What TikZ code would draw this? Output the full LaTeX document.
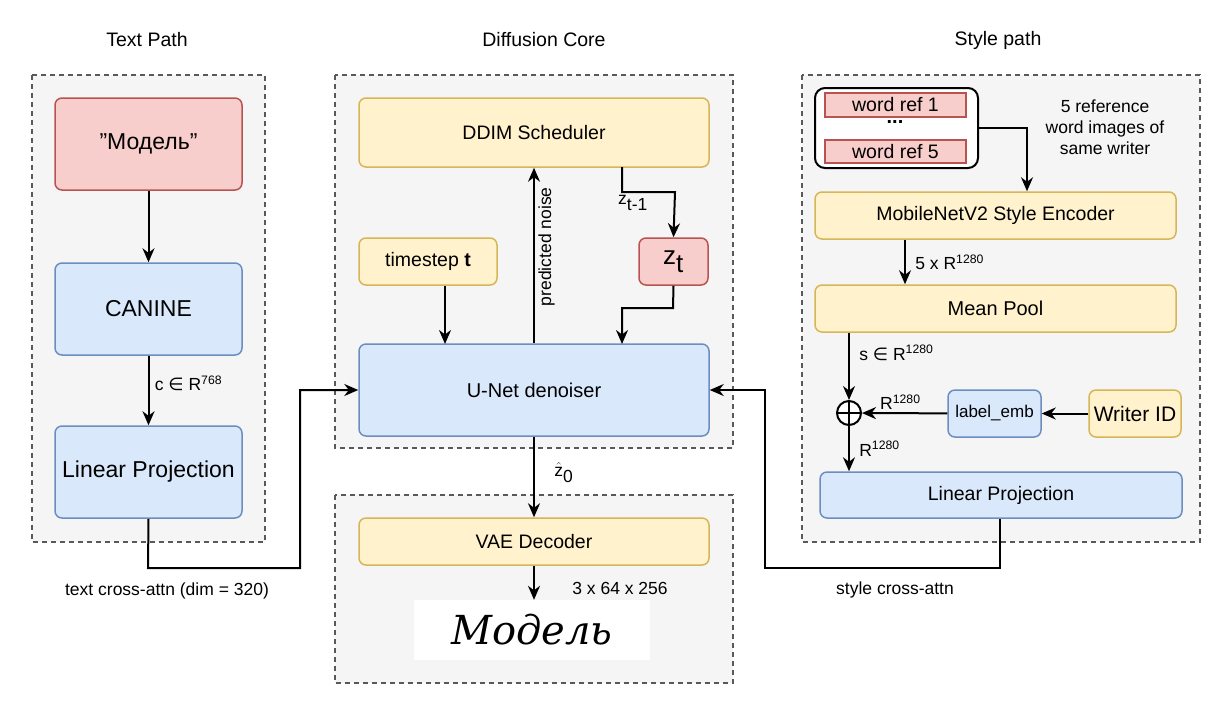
\documentclass[tikz,border=0pt]{standalone}
\usepackage{fontspec}
\setmainfont{Liberation Sans}
\newfontfamily\hand{DejaVu Serif}
\newfontfamily\dvs{DejaVu Sans}
\usetikzlibrary{arrows.meta}
\newcommand{\supx}[1]{\textsuperscript{#1}}
\newcommand{\subx}[1]{$_{\mbox{#1}}$}
\newcommand{\inx}{{\dvs ∈}}
\begin{document}
\begin{tikzpicture}[x=1pt,y=-1pt,
  grp/.style={draw=black!65,dashed,dash pattern=on 5pt off 4pt,line width=1.5pt,fill=black!4},
  box/.style={draw,rounded corners=7pt,line width=1.5pt,align=center,font=\fontsize{19.5}{23}\selectfont},
  yel/.style={box,fill={rgb,255:red,255;green,242;blue,204},draw={rgb,255:red,214;green,182;blue,86}},
  blu/.style={box,fill={rgb,255:red,218;green,232;blue,252},draw={rgb,255:red,108;green,142;blue,191}},
  red/.style={box,fill={rgb,255:red,248;green,206;blue,204},draw={rgb,255:red,184;green,84;blue,80}},
  arr/.style={-{Stealth[length=14pt,width=12pt]},line width=2pt},
  lbl/.style={font=\fontsize{17.5}{21}\selectfont},
  ttl/.style={font=\fontsize{19.5}{23}\selectfont}]
\useasboundingbox (0,0) rectangle (1230,713);
% groups
\draw[grp] (32,75) rectangle (265,542);
\draw[grp] (335,75) rectangle (733,448);
\draw[grp] (335,495) rectangle (733,683);
\draw[grp] (802,75) rectangle (1200,542);
\node[ttl] (t1) at (147,40) {Text Path};
\node[ttl] (t2) at (544,40) {Diffusion Core};
\node[ttl] (t3) at (998,40) {Style path};
% text path
\node[red,minimum width=187pt,minimum height=92pt,font=\fontsize{23}{27}\selectfont] (mod) at (148.5,144) {\char"22 Модель\char"22};
\node[blu,minimum width=187pt,minimum height=92pt,font=\fontsize{23}{27}\selectfont] (can) at (148.5,309) {CANINE};
\node[blu,minimum width=187pt,minimum height=92pt,font=\fontsize{23}{27}\selectfont] (lp1) at (148.5,472) {Linear Projection};
\draw[arr] (mod) -- (can);
\draw[arr] (can) -- node[lbl,right=2pt,pos=0.4] {c \inx{} R\supx{768}} (lp1);
% diffusion
\node[yel,minimum width=350pt,minimum height=69pt] (ddim) at (534,132.5) {DDIM Scheduler};
\node[yel,minimum width=138pt,minimum height=47pt] (ts) at (428,261.5) {timestep \textbf{t}};
\node[red,minimum width=69pt,minimum height=47pt,font=\fontsize{26}{30}\selectfont] (zt) at (673.5,261.5) {z\subx{t}};
\node[blu,minimum width=350pt,minimum height=92pt,font=\fontsize{20}{24}\selectfont] (unet) at (534,390) {U-Net denoiser};
\node[yel,minimum width=350pt,minimum height=47pt] (vae) at (534,541.5) {VAE Decoder};
\node[fill=white,minimum width=236pt,minimum height=60pt,inner sep=0pt,font=\hand\itshape\fontsize{40}{40}\selectfont] (img) at (532,630) {Модель};
\draw[arr] (unet.north) -- node[lbl,sloped,below,pos=0.55] {predicted noise} (ddim.south);
\coordinate (a1) at (622,167);
\draw[arr] (a1) |- (675,192) -- (zt.north);
\node[lbl] (zl) at (633,203) {z\subx{t-1}};
\draw[arr] (ts.south -| 445,0) -- (445,344);
\draw[arr] (zt.south) -- (673,308) -| (622,344);
\draw[arr] (unet.south) -- node[lbl,right=16pt,pos=0.45] {$\hat{\mbox{z}}_{\mbox{0}}$} (vae.north);
\draw[arr] (vae.south) -- (img.north -| vae.south);
\node[lbl] (dims) at (620,588) {3 x 64 x 256};
% text cross-attn
\draw[arr] (lp1.south) -- (148,568) -| (300,390) -- (unet.west);
\node[lbl] (tca) at (167,591) {text cross-attn (dim = 320)};
% style path
\draw[line width=2pt,fill=white,rounded corners=10pt] (815,88) rectangle (978,168);
\coordinate (wc) at (978,128);
\node[red,rounded corners=0pt,minimum width=141pt,minimum height=24pt,inner sep=0pt] (w1) at (895.5,105) {word ref 1};
\node[red,rounded corners=0pt,minimum width=141pt,minimum height=23pt,inner sep=0pt] (w5) at (895.5,151.5) {word ref 5};
\node[font=\bfseries\fontsize{20}{20}\selectfont,inner sep=0pt] (dots) at (895,122) {...};
\node[lbl,align=center] (wdesc) at (1105,127) {5 reference\\word images of\\same writer};
\node[yel,minimum width=361pt,minimum height=47pt] (mob) at (995.5,215.5) {MobileNetV2 Style Encoder};
\node[yel,minimum width=361pt,minimum height=47pt,font=\fontsize{20}{24}\selectfont] (mp) at (995.5,308.5) {Mean Pool};
\node[blu,minimum width=93pt,minimum height=47pt,inner sep=1pt,font=\fontsize{17}{20}\selectfont] (le) at (994.5,413.5) {label\_emb};
\node[yel,minimum width=92pt,minimum height=47pt,inner sep=1pt,font=\fontsize{21}{24}\selectfont] (wid) at (1135,413.5) {Writer ID};
\node[blu,minimum width=362pt,minimum height=46pt] (lp2) at (1001,495) {Linear Projection};
\node[draw,circle,line width=2pt,fill=white,minimum size=24pt,inner sep=0pt] (plus) at (849,413) {};
\draw[line width=1.5pt] (plus.north) -- (plus.south) (plus.west) -- (plus.east);
\draw[arr] (wc) -| (mob.north -| 1027,0);
\draw[arr] (mob.south -| 905,0) -- node[lbl,right=6pt] {5 x R\supx{1280}} (mp.north -| 905,0);
\draw[arr] (mp.south -| 849,0) -- node[lbl,right=6pt,pos=0.3] {s \inx{} R\supx{1280}} (plus.north);
\draw[arr] (wid) -- (le);
\draw[arr] (le) -- node[lbl,above=-1pt,pos=0.55] {R\supx{1280}} (plus);
\draw[arr] (plus.south) -- node[lbl,right=6pt] {R\supx{1280}} (lp2.north -| 849,0);
\draw[arr] (lp2.south -| 1000,0) -- (1000,568) -| (765,390) -- (unet.east);
\node[lbl] (sca) at (895,590) {style cross-attn};
\end{tikzpicture}
\end{document}
